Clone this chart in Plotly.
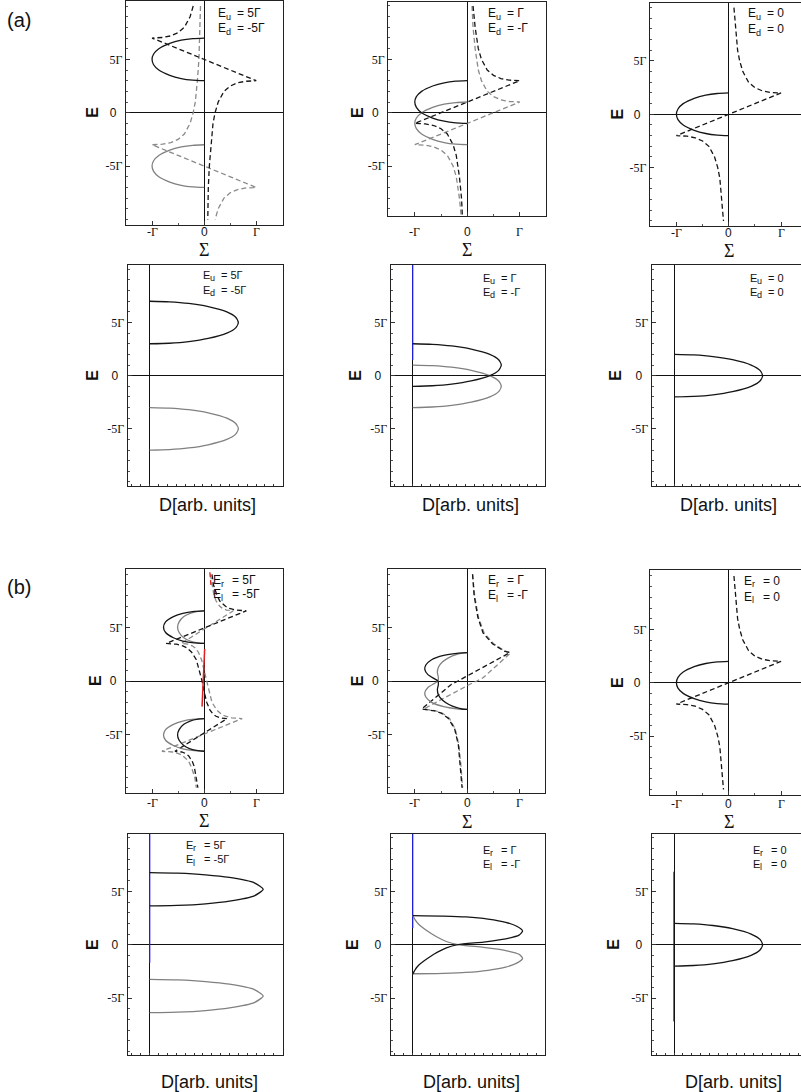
import plotly.graph_objects as go

W, H = 801, 1092

# ---------------- data (energies in units of Gamma) ----------------
# generic semicircular band readings (Im Sigma) and DOS readings
semi_im = [0, -0.22, -0.44, -0.66, -0.87, -0.97, -1, -0.97, -0.87, -0.66, -0.44, -0.22, 0]
dos_val = [0, 0.22, 0.44, 0.66, 0.87, 0.97, 1, 0.97, 0.87, 0.66, 0.44, 0.22, 0]

# (a) Eu=5, Ed=-5
a1_band_up_E = [7, 6.95, 6.8, 6.5, 6, 5.5, 5, 4.5, 4, 3.5, 3.2, 3.05, 3]
a1_band_dn_E = [-3, -3.05, -3.2, -3.5, -4, -4.5, -5, -5.5, -6, -6.5, -6.8, -6.95, -7]
a1_re_up_E = [10, 9, 8, 7.5, 7.2, 7.1, 7.05, 7, 3, 2.95, 2.9, 2.8, 2.5, 2, 1, 0, -1, -3, -5, -7, -10]
a1_re_up_S = [-0.21, -0.27, -0.38, -0.5, -0.64, -0.73, -0.8, -1.0, 1.0, 0.8, 0.73, 0.64, 0.5, 0.38, 0.27, 0.21, 0.17, 0.13, 0.1, 0.08, 0.07]
a1_re_dn_E = [10, 7, 5, 3, 1, 0, -1, -2, -2.5, -2.8, -2.9, -2.95, -3, -7, -7.05, -7.1, -7.2, -7.5, -8, -9, -10]
a1_re_dn_S = [-0.07, -0.08, -0.1, -0.13, -0.17, -0.21, -0.27, -0.38, -0.5, -0.64, -0.73, -0.8, -1.0, 1.0, 0.8, 0.73, 0.64, 0.5, 0.38, 0.27, 0.21]

# (a) Eu=1, Ed=-1
a2_band_up_E = [3, 2.95, 2.8, 2.5, 2, 1.5, 1, 0.5, 0, -0.5, -0.8, -0.95, -1]
a2_band_dn_E = [1, 0.95, 0.8, 0.5, 0, -0.5, -1, -1.5, -2, -2.5, -2.8, -2.95, -3]
a2_re_up_E = [10, 8, 6, 5, 4, 3.5, 3.2, 3.1, 3.05, 3, -1, -1.05, -1.1, -1.2, -1.5, -2, -3, -4, -6, -8, -10]
a2_re_up_S = [0.11, 0.15, 0.21, 0.27, 0.38, 0.5, 0.64, 0.73, 0.8, 1.0, -1.0, -0.8, -0.73, -0.64, -0.5, -0.38, -0.27, -0.21, -0.15, -0.11, -0.09]
a2_re_dn_E = [10, 8, 6, 4, 3, 2, 1.5, 1.2, 1.1, 1.05, 1, -3, -3.05, -3.1, -3.2, -3.5, -4, -5, -6, -8, -10]
a2_re_dn_S = [0.09, 0.11, 0.15, 0.21, 0.27, 0.38, 0.5, 0.64, 0.73, 0.8, 1.0, -1.0, -0.8, -0.73, -0.64, -0.5, -0.38, -0.27, -0.21, -0.15, -0.11]

# (a) Eu=0, Ed=0
a3_band_E = [2, 1.95, 1.8, 1.5, 1, 0.5, 0, -0.5, -1, -1.5, -1.8, -1.95, -2]
a3_re_E = [10, 8, 6, 5, 4, 3, 2.5, 2.2, 2.1, 2.05, 2, -2, -2.05, -2.1, -2.2, -2.5, -3, -4, -5, -6, -8, -10]
a3_re_S = [0.10, 0.13, 0.17, 0.21, 0.27, 0.38, 0.5, 0.64, 0.73, 0.8, 1.0, -1.0, -0.8, -0.73, -0.64, -0.5, -0.38, -0.27, -0.21, -0.17, -0.13, -0.10]

# (a) DOS blue segment (Eu=1 panel)
a5_blue_E = [10.4, 1.47]

# (b) Er=5, El=-5
b1_im_up_E = [6.58, 6.53, 6.35, 6.04, 5.55, 5.05, 4.55, 4.06, 3.75, 3.57, 3.52]
b1_im_dn_E = [-3.52, -3.57, -3.75, -4.06, -4.55, -5.05, -5.55, -6.04, -6.35, -6.53, -6.58]
b1_im_wide = [0, -0.19, -0.41, -0.59, -0.74, -0.78, -0.74, -0.59, -0.41, -0.19, 0]
b1_im_narrow = [0, -0.12, -0.27, -0.39, -0.48, -0.51, -0.48, -0.39, -0.27, -0.12, 0]
b1_re_E = [10, 9, 8, 7.5, 7, 6.8, 6.65, 6.58, 5.05, 3.52, 3.45, 3.3, 3.1, 2.7, 2, 1, 0, -1, -2,
           -2.7, -3.1, -3.3, -3.45, -3.52, -5.05, -6.58, -6.65, -6.8, -7, -7.5, -8, -9, -10]
b1_re_blk = [0.15, 0.18, 0.25, 0.30, 0.41, 0.49, 0.61, 0.81, 0.04, -0.73, -0.53, -0.41, -0.33, -0.24, -0.15,
             -0.09, -0.04, 0.00, 0.05, 0.11, 0.17, 0.23, 0.31, 0.44, -0.06, -0.56, -0.43, -0.35, -0.30,
             -0.23, -0.19, -0.15, -0.12]
b1_re_gry = [0.12, 0.15, 0.19, 0.23, 0.30, 0.35, 0.43, 0.56, 0.06, -0.44, -0.31, -0.23, -0.17, -0.11, -0.05,
             0.00, 0.04, 0.09, 0.15, 0.24, 0.33, 0.41, 0.53, 0.73, -0.04, -0.81, -0.61, -0.49, -0.41,
             -0.30, -0.25, -0.18, -0.15]
b1_red_E = [3.0, -2.4]
b1_red_S = [0.01, -0.04]
b1_reddash_E = [10.2, 9.0]
b1_reddash_S = [0.11, 0.13]

# (b) Er=1, El=-1
b2_im_E = [2.66, 2.6, 2.4, 2.0, 1.5, 1.1, 0.6, 0.2, 0, -0.3, -0.8, -1.3, -1.8, -2.2, -2.5, -2.62, -2.66]
b2_im_blk = [0, -0.2, -0.45, -0.68, -0.79, -0.81, -0.75, -0.62, -0.56, -0.55, -0.57, -0.55, -0.47, -0.35, -0.2, -0.1, 0]
b2_im_gry_E = [-2.66, -2.6, -2.4, -2.0, -1.5, -1.1, -0.6, -0.2, 0, 0.3, 0.8, 1.3, 1.8, 2.2, 2.5, 2.62, 2.66]
b2_re_E = [10, 8, 6, 4.5, 3.5, 3.0, 2.8, 2.66, 0.3, 0, -0.3, -2.62, -2.8, -3.0, -3.5, -4.5, -6, -8, -10]
b2_re_blk = [0.1, 0.13, 0.2, 0.3, 0.48, 0.62, 0.7, 0.81, -0.05, -0.18, -0.3, -0.87, -0.62, -0.5, -0.36, -0.24, -0.17, -0.13, -0.1]
b2_re_gry = [0.1, 0.14, 0.21, 0.32, 0.5, 0.64, 0.72, 0.83, 0.3, 0.18, 0.05, -0.83, -0.6, -0.48, -0.34, -0.23, -0.16, -0.12, -0.09]

# (b) DOS Er=5, El=-5
b4_up_E = [6.75, 6.70, 6.55, 6.30, 5.80, 5.19, 4.58, 4.08, 3.83, 3.68, 3.63]
b4_dn_E = [-3.25, -3.30, -3.45, -3.70, -4.20, -4.81, -5.42, -5.92, -6.17, -6.32, -6.37]
b4_D = [0, 0.31, 0.63, 0.90, 1.18, 1.28, 1.18, 0.90, 0.63, 0.31, 0]
b4_blue_E = [10.37, -1.7]

# (b) DOS Er=1, El=-1
b5_blk_E = [2.72, 2.68, 2.6, 2.4, 2.1, 1.7, 1.28, 0.9, 0.55, 0.25, 0, -0.3, -0.7, -1.1, -1.5, -1.9, -2.3, -2.6, -2.75]
b5_gry_E = [-2.72, -2.68, -2.6, -2.4, -2.1, -1.7, -1.28, -0.9, -0.55, -0.25, 0, 0.3, 0.7, 1.1, 1.5, 1.9, 2.3, 2.6, 2.75]
b5_D = [0, 0.35, 0.6, 0.85, 1.05, 1.18, 1.24, 1.2, 1.05, 0.8, 0.51, 0.38, 0.28, 0.2, 0.13, 0.07, 0.03, 0.01, 0]
b5_blue_E = [10.37, 1.54]

# (b) DOS Er=0, El=0
b6_vert_E = [6.84, -7.2]

# axis tick labels
sig_tickvals = [-1, 0, 1]
sig_ticktext = ["-Γ", "0", "Γ"]
e_tickvals = [-5, 0, 5]
e_ticktext = ["-5Γ", "0", "5Γ"]

# parameter labels: (subscript, value) pairs per panel
param_labels = [
    [("u", "5Γ"), ("d", "-5Γ")],
    [("u", "Γ"), ("d", "-Γ")],
    [("u", "0"), ("d", "0")],
    [("u", "5Γ"), ("d", "-5Γ")],
    [("u", "Γ"), ("d", "-Γ")],
    [("u", "0"), ("d", "0")],
    [("r", "5Γ"), ("l", "-5Γ")],
    [("r", "Γ"), ("l", "-Γ")],
    [("r", "0"), ("l", "0")],
    [("r", "5Γ"), ("l", "-5Γ")],
    [("r", "Γ"), ("l", "-Γ")],
    [("r", "0"), ("l", "0")],
]

# ---------------- layout geometry (pixel boxes) ----------------
panels = [
    dict(box=(126, 282.7, 1, 225), xr=(-1.5, 1.508), yr=(-10.52, 10.47), kind="S", mirror=True),
    dict(box=(388.3, 546, 1.7, 216), xr=(-1.505, 1.5), yr=(-9.68, 10.4), kind="S", mirror=True),
    dict(box=(650, 801, 2.7, 226), xr=(-1.505, 1.382), yr=(-10.47, 10.46), kind="S", mirror=False),
    dict(box=(127.7, 282.7, 265, 486), xr=(-0.248, 1.5), yr=(-10.38, 10.41), kind="D", mirror=True),
    dict(box=(390.7, 545, 265, 486), xr=(-0.248, 1.493), yr=(-10.38, 10.41), kind="D", mirror=True),
    dict(box=(651.7, 801, 265, 486), xr=(-0.252, 1.433), yr=(-10.38, 10.41), kind="D", mirror=False),
    dict(box=(126, 282.7, 569.3, 793.3), xr=(-1.5, 1.508), yr=(-10.52, 10.47), kind="S", mirror=True),
    dict(box=(388.3, 545, 569.3, 793.3), xr=(-1.505, 1.48), yr=(-10.52, 10.47), kind="S", mirror=True),
    dict(box=(650, 801, 570, 795), xr=(-1.505, 1.382), yr=(-10.52, 10.56), kind="S", mirror=False),
    dict(box=(127.7, 282.7, 834, 1055.3), xr=(-0.248, 1.5), yr=(-10.36, 10.37), kind="D", mirror=True),
    dict(box=(390.7, 545, 834, 1055.3), xr=(-0.248, 1.493), yr=(-10.36, 10.37), kind="D", mirror=True),
    dict(box=(651.7, 801, 834, 1055.3), xr=(-0.252, 1.433), yr=(-10.36, 10.37), kind="D", mirror=False),
]
# label anchor (left x, line-1 y, line-2 y, font size) per panel
label_pos = [
    (218, 13, 28, 12), (488, 13, 28, 12), (748, 13, 29, 12),
    (203, 275, 290, 11), (483, 277.7, 291.7, 11), (750, 277.7, 292, 11),
    (213, 580, 594, 12), (488, 580, 595, 12), (744, 580.7, 596.7, 12),
    (186, 845, 859.3, 11), (483, 850, 864, 11), (753, 850, 864, 11),
]

BLK = "#151515"
GRY = "#808080"
GRYD = "#8a8a8a"
LW = 1.3
DASH = "5px,3px"

fig = go.Figure()


def ax(i):
    return ("x" if i == 0 else f"x{i+1}"), ("y" if i == 0 else f"y{i+1}")


def add(i, xs, ys, color, dash="solid", width=LW, smooth=False):
    xa, ya = ax(i)
    fig.add_trace(go.Scatter(
        x=xs, y=ys, mode="lines", xaxis=xa, yaxis=ya, showlegend=False, hoverinfo="skip",
        line=dict(color=color, width=width, dash=dash,
                  shape="spline" if smooth else "linear", smoothing=0.6 if smooth else None)))


# (a) Sigma panels
add(0, a1_re_dn_S, a1_re_dn_E, GRYD, DASH)
add(0, a1_re_up_S, a1_re_up_E, BLK, DASH)
add(0, semi_im, a1_band_dn_E, GRY, smooth=True)
add(0, semi_im, a1_band_up_E, BLK, smooth=True)

add(1, a2_re_dn_S, a2_re_dn_E, GRYD, DASH)
add(1, a2_re_up_S, a2_re_up_E, BLK, DASH)
add(1, semi_im, a2_band_dn_E, GRY, smooth=True)
add(1, semi_im, a2_band_up_E, BLK, smooth=True)

add(2, a3_re_S, a3_re_E, BLK, DASH)
add(2, semi_im, a3_band_E, BLK, smooth=True)

# (a) DOS panels
add(3, dos_val, a1_band_dn_E, GRY, smooth=True)
add(3, dos_val, a1_band_up_E, BLK, smooth=True)
add(4, [0, 0], a5_blue_E, "#2020e0")
add(4, dos_val, a2_band_dn_E, GRY, smooth=True)
add(4, dos_val, a2_band_up_E, BLK, smooth=True)
add(5, dos_val, a3_band_E, BLK, smooth=True)

# (b) Sigma panels
add(6, b1_re_gry, b1_re_E, GRYD, DASH)
add(6, b1_re_blk, b1_re_E, BLK, DASH)
add(6, b1_im_narrow, b1_im_up_E, GRY, smooth=True)
add(6, b1_im_wide, b1_im_dn_E, GRY, smooth=True)
add(6, b1_im_wide, b1_im_up_E, BLK, smooth=True)
add(6, b1_im_narrow, b1_im_dn_E, BLK, smooth=True)
add(6, b1_red_S, b1_red_E, "#e02020", width=1.5)
add(6, b1_reddash_S, b1_reddash_E, "#e02020", DASH)

add(7, b2_re_gry, b2_re_E, GRYD, DASH)
add(7, b2_re_blk, b2_re_E, BLK, DASH)
add(7, b2_im_blk, b2_im_gry_E, GRY, smooth=True)
add(7, b2_im_blk, b2_im_E, BLK, smooth=True)

add(8, a3_re_S, a3_re_E, BLK, DASH)
add(8, semi_im, a3_band_E, BLK, smooth=True)

# (b) DOS panels
add(9, [0, 0], b4_blue_E, "#2020e0")
add(9, b4_D, b4_dn_E, GRY, smooth=True)
add(9, b4_D, b4_up_E, BLK, smooth=True)
add(10, [0, 0], b5_blue_E, "#2020e0")
add(10, b5_D, b5_gry_E, GRY, smooth=True)
add(10, b5_D, b5_blk_E, BLK, smooth=True)
add(11, [0, 0], b6_vert_E, BLK)
add(11, dos_val, a3_band_E, BLK, smooth=True)

SANS = "Liberation Sans"
SERIF = "Liberation Serif"


def zero_sans(t):
    return '<span style="font-family:Liberation Sans">0</span>' if t == "0" else t


layout = dict(width=W, height=H, autosize=False, margin=dict(l=0, r=0, t=0, b=0, pad=0),
              paper_bgcolor="white", plot_bgcolor="white", showlegend=False)

for i, p in enumerate(panels):
    l, r, t, b = p["box"]
    xk = "xaxis" if i == 0 else f"xaxis{i+1}"
    yk = "yaxis" if i == 0 else f"yaxis{i+1}"
    xa, ya = ax(i)
    common = dict(showgrid=False, showline=True, linecolor="#222", linewidth=1.2,
                  zeroline=True, zerolinecolor="#111", zerolinewidth=1.2,
                  ticks="inside", ticklen=4, tickcolor="#333", tickwidth=1,
                  tickfont=dict(family=SERIF, size=12, color="#111"))
    if p["kind"] == "S":
        xax = dict(common, domain=[l / W, r / W], range=list(p["xr"]), anchor=ya,
                   mirror=True, tickmode="array", tickvals=sig_tickvals, showticklabels=False,
                   minor=dict(dtick=0.5, tick0=0, ticks="inside", ticklen=2, tickcolor="#555"))
    else:
        xax = dict(common, domain=[l / W, r / W], range=list(p["xr"]), anchor=ya,
                   mirror=True, tickmode="linear", tick0=0, dtick=0.1, ticklen=2,
                   showticklabels=False)
    yax = dict(common, domain=[1 - b / H, 1 - t / H], range=list(p["yr"]), anchor=xa,
               mirror=p["mirror"], tickmode="array", tickvals=e_tickvals,
               ticktext=[zero_sans(s) + ("\u2002" if s == "0" else "") for s in e_ticktext],
               minor=dict(dtick=1, tick0=0, ticks="inside", ticklen=2, tickcolor="#555"))
    layout[xk] = xax
    layout[yk] = yax

anns = []


def text(px, py, s, size, family=SANS, xanchor="center", yanchor="middle", angle=0,
         align="left", xref="paper", xval=None):
    anns.append(dict(x=(px / W) if xval is None else xval, y=1 - py / H, xref=xref, yref="paper",
                     text=s, showarrow=False, borderpad=0, borderwidth=0,
                     xanchor=xanchor, yanchor=yanchor, textangle=angle, align=align,
                     font=dict(family=family, size=size, color="#111")))


# panel letters
text(19, 20, "(a)", 20)
text(19, 587, "(b)", 20)

# E axis titles
for px, py in [(93, 112.7), (357.3, 112.7), (617.3, 114.3),
               (93, 375.7), (356, 375.7), (616, 375.7),
               (95, 681), (357.3, 681), (617.3, 682.7),
               (92.3, 944.7), (352.3, 944.7), (614, 944.7)]:
    text(px, py, "<b>E</b>", 16, angle=-90)

# Sigma tick labels (placed at data x positions) and Sigma titles
sig_rows = [(0, 231.5, 239.5), (1, 231.5, 239.5), (2, 232.5, 240.5),
            (6, 802.5, 810.5), (7, 802.5, 811.5), (8, 803.5, 811.5)]
for i, ty, sy in sig_rows:
    xa, _ = ax(i)
    for v, s in zip(sig_tickvals, sig_ticktext):
        text(0, ty, zero_sans(s), 12, family=SERIF, xref=xa, xval=v)
    text(0, sy, "Σ", 18, family=SERIF, yanchor="top", xref=xa, xval=0)

# D titles
for px, py in [(207, 505), (470.3, 505), (728.8, 505)]:
    text(px, py, "D[arb. units]", 18)
for px in [209, 471.7, 733.8]:
    text(px, 1091.5, "D[arb. units]", 18, yanchor="bottom")

# parameter labels: "E" + subscript + "= value", built from separate pieces
for (px, y1, y2, sz), lines in zip(label_pos, param_labels):
    for py, (sub, val) in zip((y1, y2), lines):
        text(px, py, "E", sz, xanchor="left")
        text(px + 0.68 * sz, py + 0.3 * sz, sub, round(sz * 0.78), xanchor="left")
        text(px + 1.62 * sz, py, "= " + val, sz, xanchor="left")

layout["annotations"] = anns
fig.update_layout(**layout)
fig.write_html("out.html")
